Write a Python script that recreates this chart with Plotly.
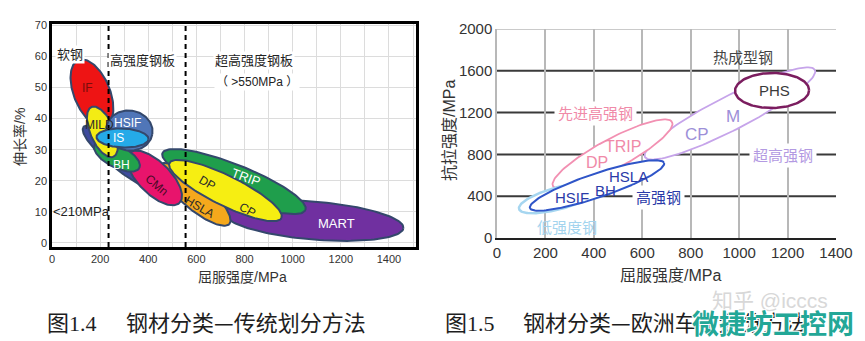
import numpy as np
import plotly.graph_objects as go

W, H = 865, 341
CJK = "Noto Sans CJK SC"
LAT = "Liberation Sans"

# ---------------- Fig 1.4: elongation vs yield strength (traditional) ----------------
trad_names = ["MART", "TRIP", "HSLA", "DP-CP", "HSS band", "CMn", "BH", "IF", "MILD", "HSIF", "IS"]
trad_ys_start = [717, 459, 447, 488, 131, 322, 177, 110, 164, 226, 185]      # yield, MPa
trad_el_start = [9.6, 28.9, 25.1, 25.7, 37.3, 28.9, 31.5, 58.8, 43.7, 37.3, 34.1]  # elongation, %
trad_ys_end = [1460, 1053, 737, 953, 467, 530, 363, 222, 255, 417, 401]
trad_el_end = [4.8, 10.6, 6.1, 8.0, 17.0, 12.9, 24.1, 37.6, 27.7, 35.0, 33.4]

trad_label_text = ["IF", "MILD", "HSIF", "IS", "BH", "CMn", "DP", "CP", "HSLA", "TRIP", "MART"]
trad_label_ys = [147, 197, 314, 276, 289, 434, 646, 812, 613, 808, 1182]
trad_label_el = [49.8, 37.9, 38.6, 33.8, 25.1, 18.6, 19.3, 10.6, 11.6, 20.9, 6.4]

trad_zone_text = ["软钢", "高强度钢板", "超高强度钢板", "（ >550MPa ）", "<210MPa"]
trad_zone_ys = [73, 376, 841, 853, 123]
trad_zone_el = [60.5, 58.8, 58.8, 51.8, 10.0]
trad_bounds = [235, 555]
trad_xticks = [0, 200, 400, 600, 800, 1000, 1200, 1400]
trad_yticks = [0, 10, 20, 30, 40, 50, 60, 70]

# ---------------- Fig 1.5: tensile vs yield strength (European body classes) ----------------
euro_names = ["超高强钢", "先进高强钢", "低强度钢", "高强钢", "热成型钢"]
euro_ys_start = [611, 231, 91, 136, 983]
euro_ts_start = [775, 498, 278, 287, 1407]
euro_ys_end = [1313, 723, 425, 690, 1289]
euro_ts_end = [1608, 1110, 488, 718, 1416]

euro_label_text = ["热成型钢", "PHS", "M", "CP", "超高强钢", "先进高强钢", "TRIP", "DP",
                   "HSLA", "BH", "HSIF", "高强钢", "低强度钢"]
euro_label_ys = [1016, 1148, 975, 826, 1181, 405, 520, 413, 541, 446, 310, 665, 289]
euro_label_ts = [1732, 1416, 1158, 986, 794, 1196, 871, 718, 584, 459, 392, 383, 96]
euro_xticks = [0, 200, 400, 600, 800, 1000, 1200, 1400]
euro_yticks = [0, 400, 800, 1200, 1600, 2000]

# ---------------- styling / geometry ----------------
L_PX = dict(x0=52, x1=416, y0=24, y1=247)
R_PX = dict(x0=497, x1=836, y0=29, y1=238)
L_XR = [0, (L_PX["x1"] - L_PX["x0"]) / 0.2407]
L_YR = [-1.3, 70.4]
R_XR = [0, 1400]
R_YR = [0, 2000]

trad_style = {
    "MART": ("#7030a0", 19), "TRIP": ("#1f9e4c", 17), "HSLA": ("#f5a81c", 14),
    "DP-CP": ("#f6ee12", 15), "HSS band": ("#3d4a9e", 13), "CMn": ("#e8146c", 16),
    "BH": ("#22a24c", 11), "IF": ("#ee1414", 18), "MILD": ("#f3ec14", 12),
    "HSIF": ("#5076b8", 20), "IS": ("#25aae8", 9.5),
}
trad_label_style = {
    "IF": ("#7a0c0c", 0, 12), "MILD": ("#2a2a2a", 0, 12), "HSIF": ("white", 0, 12),
    "IS": ("white", 0, 12), "BH": ("white", 0, 12), "CMn": ("#4a0a26", 40, 12),
    "DP": ("#2a2a2a", 30, 12), "CP": ("#2a2a2a", 30, 12), "HSLA": ("#2a2a2a", 30, 12),
    "TRIP": ("white", 20, 13), "MART": ("white", 0, 13),
}
euro_style = {
    "超高强钢": ("#c6a4ea", 17, 1.8), "先进高强钢": ("#f290b2", 15, 1.8),
    "低强度钢": ("#a6d6f0", 11, 2.5), "高强钢": ("#2f55c8", 12, 2.0),
    "热成型钢": ("#7b1d5f", 17.5, 2.5),
}
euro_label_style = {
    "热成型钢": ("#444444", 15, False), "PHS": ("#3a3a3a", 15, False),
    "M": ("#9d8fd8", 17, False), "CP": ("#9d8fd8", 17, False),
    "超高强钢": ("#b39ae2", 15, True), "先进高强钢": ("#f08aa8", 15, True),
    "TRIP": ("#f08aa8", 16, False), "DP": ("#f08aa8", 16, False),
    "HSLA": ("#2a3aa8", 15, False), "BH": ("#2a3aa8", 15, False),
    "HSIF": ("#2a3aa8", 15, False), "高强钢": ("#2a3aa8", 15, True),
    "低强度钢": ("#a3d4ee", 15, False),
}


def ellipse(xa, ya, xb, yb, half_px, sx, sy, n=140):
    """Ellipse whose long axis joins (xa,ya)-(xb,yb); half width given in screen pixels."""
    ua, va, ub, vb = xa * sx, ya * sy, xb * sx, yb * sy
    cu, cv = (ua + ub) / 2, (va + vb) / 2
    a = np.hypot(ub - ua, vb - va) / 2
    th = np.arctan2(vb - va, ub - ua)
    t = np.linspace(0, 2 * np.pi, n)
    u = cu + a * np.cos(t) * np.cos(th) - half_px * np.sin(t) * np.sin(th)
    v = cv + a * np.cos(t) * np.sin(th) + half_px * np.sin(t) * np.cos(th)
    return u / sx, v / sy


def px_scale(px, xr, yr):
    return ((px["x1"] - px["x0"]) / (xr[1] - xr[0]), (px["y1"] - px["y0"]) / (yr[1] - yr[0]))


fig = go.Figure()

# left panel ellipses
lsx, lsy = px_scale(L_PX, L_XR, L_YR)
for name, xa, ya, xb, yb in zip(trad_names, trad_ys_start, trad_el_start, trad_ys_end, trad_el_end):
    col, hw = trad_style[name]
    ex, ey = ellipse(xa, ya, xb, yb, hw, lsx, lsy)
    fig.add_trace(go.Scatter(x=ex, y=ey, mode="lines", fill="toself", fillcolor=col,
                             line=dict(color="#34486c", width=2), hoverinfo="skip",
                             showlegend=False, xaxis="x", yaxis="y"))

# right panel ellipses (white filled outlines)
rsx, rsy = px_scale(R_PX, R_XR, R_YR)
for name, xa, ya, xb, yb in zip(euro_names, euro_ys_start, euro_ts_start, euro_ys_end, euro_ts_end):
    col, hw, lw = euro_style[name]
    ex, ey = ellipse(xa, ya, xb, yb, hw, rsx, rsy)
    fig.add_trace(go.Scatter(x=ex, y=ey, mode="lines", fill="toself", fillcolor="white",
                             line=dict(color=col, width=lw), hoverinfo="skip",
                             showlegend=False, xaxis="x2", yaxis="y2"))

ann = []
for t, x, y in zip(trad_label_text, trad_label_ys, trad_label_el):
    col, ang, sz = trad_label_style[t]
    ann.append(dict(x=x, y=y, xref="x", yref="y", text=t, showarrow=False, textangle=ang,
                    font=dict(family=LAT, size=sz, color=col)))
for t, x, y in zip(trad_zone_text, trad_zone_ys, trad_zone_el):
    ann.append(dict(x=x, y=y, xref="x", yref="y", text=t, showarrow=False,
                    bgcolor="white" if t != "<210MPa" else None,
                    font=dict(family=f"{LAT}, {CJK}", size=13 if "（" not in t else 12, color="#222")))
for t, x, y in zip(euro_label_text, euro_label_ys, euro_label_ts):
    col, sz, bg = euro_label_style[t]
    ann.append(dict(x=x, y=y, xref="x2", yref="y2", text=t, showarrow=False,
                    bgcolor="white" if bg else None, borderpad=3,
                    font=dict(family=f"{LAT}, {CJK}", size=sz, color=col)))


def paper_note(text, px, py, size, color, family, angle=0, xanchor="center"):
    return dict(x=px / W, y=1 - py / H, xref="paper", yref="paper", text=text,
                showarrow=False, textangle=angle, xanchor=xanchor, yanchor="middle",
                font=dict(family=family, size=size, color=color))


# axis titles
for txt, px_, py_, ang, sz in [("伸长率/%", 20, 137, -90, 14), ("屈服强度/MPa", 242, 277, 0, 14),
                               ("抗拉强度/MPa", 449, 131, -90, 16), ("屈服强度/MPa", 670, 275, 0, 16)]:
    ann.append(paper_note(txt, px_, py_, sz, "#333", f"{LAT}, {CJK}", angle=ang))

# captions
serif = "font-family:'Liberation Serif'"
for txt, px_ in [(f"图<span style=\"{serif}\">1.4</span>", 45), ("钢材分类—传统划分方法", 124),
                 (f"图<span style=\"{serif}\">1.5</span>", 443), ("钢材分类—欧洲车身划分方法", 521)]:
    ann.append(paper_note(txt, px_, 321, 22, "#1e1e1e", CJK, xanchor="left"))
ann.append(paper_note("知乎 @icccs", 770, 300, 21, "#d8d8d8", f"{LAT}, {CJK}"))
wm = paper_note("<b>微捷坊工控网</b>", 773, 322, 27, "#23a797", CJK)
wm["font"]["shadow"] = "1px 1px 0 #fff, -1px -1px 0 #fff, 1px -1px 0 #fff, -1px 1px 0 #fff"
ann.append(wm)

shapes = []
for b in trad_bounds:
    shapes.append(dict(type="line", xref="x", yref="y", x0=b, x1=b, y0=L_YR[0], y1=L_YR[1],
                       line=dict(color="black", width=2, dash="5px,4px"), layer="above"))
# right panel: dark horizontal grid, grey frame on top
for v in euro_yticks[1:]:
    shapes.append(dict(type="line", xref="x2", yref="y2", x0=-18 if v < 2000 else 0, x1=1400,
                       y0=v, y1=v, layer="below",
                       line=dict(color="#3a3a3a" if v < 2000 else "#b8b8b8", width=2 if v < 2000 else 1.5)))

fig.update_layout(
    width=W, height=H, margin=dict(l=0, r=0, t=0, b=0, autoexpand=False),
    paper_bgcolor="white", plot_bgcolor="white", showlegend=False,
    annotations=ann, shapes=shapes,
    xaxis=dict(domain=[L_PX["x0"] / W, L_PX["x1"] / W], range=L_XR, tickvals=trad_xticks,
               showgrid=True, gridcolor="#dcdcdc", gridwidth=1,
               minor=dict(tickvals=list(range(100, 1600, 200)), showgrid=True, gridcolor="#dcdcdc"),
               showline=True, linecolor="black", linewidth=2.5, mirror=True, zeroline=False,
               tickfont=dict(family=LAT, size=11, color="#333"), ticks="", automargin=False),
    yaxis=dict(domain=[1 - L_PX["y1"] / H, 1 - L_PX["y0"] / H], range=L_YR, tickvals=trad_yticks,
               showgrid=True, gridcolor="#dcdcdc", gridwidth=1,
               showline=True, linecolor="black", linewidth=2.5, mirror=True, zeroline=False,
               tickfont=dict(family=LAT, size=11, color="#333"), ticks="", automargin=False),
    xaxis2=dict(domain=[R_PX["x0"] / W, R_PX["x1"] / W], range=R_XR, tickvals=euro_xticks,
                showgrid=True, gridcolor="#b8b8b8", gridwidth=1.5, anchor="y2",
                showline=True, linecolor="#222", linewidth=2, zeroline=False,
                tickfont=dict(family=LAT, size=15, color="#333"), ticks="", automargin=False),
    yaxis2=dict(domain=[1 - R_PX["y1"] / H, 1 - R_PX["y0"] / H], range=R_YR, tickvals=euro_yticks,
                showgrid=False, anchor="x2", showline=True, linecolor="#b8b8b8", linewidth=1.5,
                zeroline=False, tickfont=dict(family=LAT, size=15, color="#333"), ticks="",
                automargin=False),
)

fig.write_html("out.html")
